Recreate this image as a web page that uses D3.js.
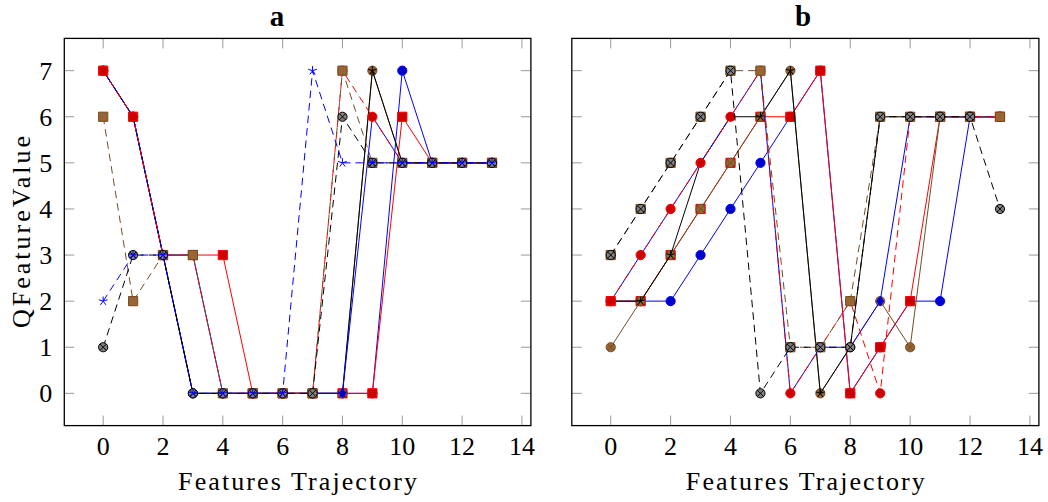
<!DOCTYPE html>
<html>
<head>
<meta charset="utf-8">
<script src="https://cdn.jsdelivr.net/npm/d3@7"></script>
<style>
  body { margin: 0; background: #fff; }
  svg { display: block; }
</style>
</head>
<body>
<svg id="chart" width="1048" height="502"></svg>
<script>
// ---- data ----
const steps = [0, 1, 2, 3, 4, 5, 6, 7, 8, 9, 10, 11, 12, 13];
const xTickValues = [0, 2, 4, 6, 8, 10, 12, 14];
const yTickValues = [0, 1, 2, 3, 4, 5, 6, 7];
const panelTitles = ["a", "b"];
const xAxisLabel = "Features Trajectory";
const yAxisLabel = "QFeatureValue";

// panel a: one array per trajectory
const a1 = [7, 6, 3, 0, 0, 0, 0, 0, 0, 0, 7, 5, 5, 5];
const a2 = [7, 6, 3, 3, 3, 0, 0, 0, 0, 0, 6, 5, 5, 5];
const a3 = [7, 6, 3, 0, 0, 0, 0, 0, 0, 7, 5, 5, 5, 5];
const a4 = [7, 6, 3, 0, 0, 0, 0, 0, 0, 7, 5, 5, 5, 5];
const a5 = [7, 6, 3, 3, 0, 0, 0, 0, 0, 6, 5, 5, 5, 5];
const a6 = [7, 6, 3, 3, 0, 0, 0, 0, 7, 6, 5, 5, 5, 5];
const a7 = [6, 2, 3, 3, 0, 0, 0, 0, 7, 5, 5, 5, 5, 5];
const a8 = [1, 3, 3, 0, 0, 0, 0, 0, 6, 5, 5, 5, 5, 5];
const a9 = [2, 3, 3, 0, 0, 0, 0, 7, 5, 5, 5, 5, 5, 5];

// panel b
const b1 = [2, 2, 2, 3, 4, 5, 6, 7, 0, 1, 2, 2, 6, 6];
const b2 = [2, 2, 3, 4, 5, 6, 6, 7, 0, 1, 2, 6, 6, 6];
const b3 = [1, 2, 3, 4, 5, 6, 7, 0, 1, 2, 1, 6, 6, 6];
const b4 = [2, 2, 3, 5, 6, 6, 7, 0, 1, 6, 6, 6, 6, 6];
const b5 = [2, 3, 4, 5, 6, 7, 0, 1, 1, 2, 6, 6, 6, 6];
const b6 = [2, 3, 4, 5, 6, 7, 0, 1, 2, 0, 6, 6, 6, 6];
const b7 = [3, 4, 5, 6, 7, 7, 1, 1, 2, 6, 6, 6, 6, 6];
const b8 = [3, 4, 5, 6, 7, 0, 1, 1, 1, 6, 6, 6, 6, 4];

const panelSeries = [
  [a1, a2, a3, a4, a5, a6, a7, a8, a9],
  [b1, b2, b3, b4, b5, b6, b7, b8]
];

// ---- plot styles, applied in drawing order ----
const DASH = "7.5,5";
const styleCycle = [
  { line: "#0000ff", dash: null, mark: "circle",  fill: "#0000cc", stroke: "#0000ff" },
  { line: "#ff0000", dash: null, mark: "square",  fill: "#cc0000", stroke: "#ff0000" },
  { line: "#734d26", dash: null, mark: "otimes",  fill: "#996633", stroke: "#734d26" },
  { line: "#000000", dash: null, mark: "star",    fill: "none",    stroke: "#000000" },
  { line: "#0000ff", dash: null, mark: "diamond", fill: "#0000cc", stroke: "#0000ff" },
  { line: "#ff0000", dash: DASH, mark: "circle",  fill: "#cc0000", stroke: "#ff0000" },
  { line: "#734d26", dash: DASH, mark: "square",  fill: "#996633", stroke: "#734d26" },
  { line: "#000000", dash: DASH, mark: "otimes",  fill: "#808080", stroke: "#000000" },
  { line: "#0000ff", dash: DASH, mark: "star",    fill: "none",    stroke: "#0000ff" }
];

const FONT = "'Liberation Serif', 'Times New Roman', serif";
const markR = 4.6;

const panels = [
  { left: 64.3, right: 530.9, titleX: 277, yLabels: true },
  { left: 571.8, right: 1038.9, titleX: 803, yLabels: false }
];
const plotTop = 38.4, plotBottom = 425.6;

const svg = d3.select("#chart");

function markPath(kind, r) {
  const p = d3.path();
  if (kind === "square") {
    p.rect(-r, -r, 2 * r, 2 * r);
  } else if (kind === "diamond") {
    p.moveTo(0, -r); p.lineTo(0.75 * r, 0); p.lineTo(0, r); p.lineTo(-0.75 * r, 0); p.closePath();
  } else if (kind === "circle" || kind === "otimes") {
    p.arc(0, 0, r, 0, 2 * Math.PI); p.closePath();
  }
  return p.toString();
}

function crossPath(kind, r) {
  const p = d3.path();
  if (kind === "otimes") {
    const k = r * Math.SQRT1_2;
    p.moveTo(-k, -k); p.lineTo(k, k);
    p.moveTo(-k, k); p.lineTo(k, -k);
  } else if (kind === "star") {
    for (let i = 0; i < 5; i++) {
      const ang = (90 + 72 * i) * Math.PI / 180;
      p.moveTo(0, 0); p.lineTo(r * Math.cos(ang), -r * Math.sin(ang));
    }
  }
  return p.toString();
}

panels.forEach((pn, pi) => {
  const x = d3.scaleLinear().domain([-1.3, 14.3]).range([pn.left, pn.right]);
  const y = d3.scaleLinear().domain([-0.7, 7.7]).range([plotBottom, plotTop]);
  const g = svg.append("g");

  // inward ticks on all four sides
  const tickLen = 10;
  const tickG = g.append("g").attr("stroke", "#999").attr("stroke-width", 1);
  xTickValues.forEach(v => {
    tickG.append("line").attr("x1", x(v)).attr("x2", x(v)).attr("y1", plotBottom).attr("y2", plotBottom - tickLen);
    tickG.append("line").attr("x1", x(v)).attr("x2", x(v)).attr("y1", plotTop).attr("y2", plotTop + tickLen);
  });
  yTickValues.forEach(v => {
    tickG.append("line").attr("x1", pn.left).attr("x2", pn.left + tickLen).attr("y1", y(v)).attr("y2", y(v));
    tickG.append("line").attr("x1", pn.right).attr("x2", pn.right - tickLen).attr("y1", y(v)).attr("y2", y(v));
  });

  // series: line first, then its marks
  const line = d3.line().x((d, i) => x(steps[i])).y(d => y(d));
  panelSeries[pi].forEach((vals, si) => {
    const st = styleCycle[si];
    const sg = g.append("g");
    sg.append("path")
      .attr("d", line(vals))
      .attr("fill", "none")
      .attr("stroke", st.line)
      .attr("stroke-width", 1)
      .attr("stroke-dasharray", st.dash)
      .attr("stroke-linejoin", "round");
    const mg = sg.selectAll("g.mark").data(vals).join("g")
      .attr("class", "mark")
      .attr("transform", (d, i) => `translate(${x(steps[i])},${y(d)})`);
    if (st.mark !== "star") {
      mg.append("path").attr("d", markPath(st.mark, markR))
        .attr("fill", st.fill).attr("stroke", st.stroke).attr("stroke-width", 1);
    }
    if (st.mark === "otimes" || st.mark === "star") {
      mg.append("path").attr("d", crossPath(st.mark, markR))
        .attr("fill", "none").attr("stroke", st.stroke).attr("stroke-width", 1);
    }
  });

  // frame
  g.append("rect")
    .attr("x", pn.left).attr("y", plotTop)
    .attr("width", pn.right - pn.left).attr("height", plotBottom - plotTop)
    .attr("fill", "none").attr("stroke", "#000").attr("stroke-width", 1.3);

  // tick labels
  g.append("g").selectAll("text").data(xTickValues).join("text")
    .attr("x", d => x(d)).attr("y", 455)
    .attr("text-anchor", "middle")
    .attr("font-family", FONT).attr("font-size", 26)
    .text(d => d);
  if (pn.yLabels) {
    g.append("g").selectAll("text").data(yTickValues).join("text")
      .attr("x", pn.left - 12).attr("y", d => y(d) + 9)
      .attr("text-anchor", "end")
      .attr("font-family", FONT).attr("font-size", 26)
      .text(d => d);
    g.append("text")
      .attr("transform", `translate(30,${(plotTop + plotBottom) / 2}) rotate(-90)`)
      .attr("text-anchor", "middle")
      .attr("font-family", FONT).attr("font-size", 26)
      .attr("textLength", 192).attr("lengthAdjust", "spacing")
      .text(yAxisLabel);
  }

  // axis label and title
  g.append("text")
    .attr("x", (pn.left + pn.right) / 2).attr("y", 490)
    .attr("text-anchor", "middle")
    .attr("font-family", FONT).attr("font-size", 26)
    .attr("textLength", 239).attr("lengthAdjust", "spacing")
    .text(xAxisLabel);
  g.append("text")
    .attr("x", pn.titleX).attr("y", 26)
    .attr("text-anchor", "middle")
    .attr("font-family", FONT).attr("font-size", 29).attr("font-weight", "bold")
    .text(panelTitles[pi]);
});
</script>
</body>
</html>
